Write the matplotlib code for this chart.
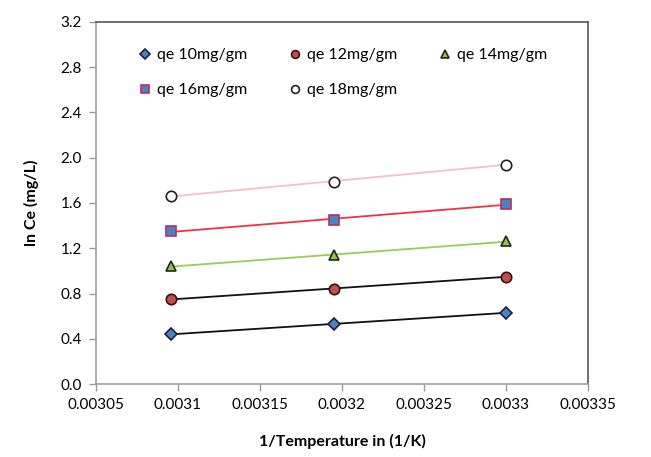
import numpy as np
import matplotlib
matplotlib.use('Agg')
from matplotlib import pyplot as plt

plt.rcParams['font.family'] = ['Lato', 'DejaVu Sans']

# 1/T values (303, 313, 323 K)
inv_temp = [1/323.0, 1/313.0, 1/303.0]
series_names = ['qe 10mg/gm', 'qe 12mg/gm', 'qe 14mg/gm', 'qe 16mg/gm', 'qe 18mg/gm']
ln_ce_10 = [0.44, 0.53, 0.63]
ln_ce_12 = [0.75, 0.84, 0.95]
ln_ce_14 = [1.04, 1.14, 1.26]
ln_ce_16 = [1.35, 1.45, 1.59]
ln_ce_18 = [1.66, 1.79, 1.94]
x_ticks = [0.00305, 0.0031, 0.00315, 0.0032, 0.00325, 0.0033, 0.00335]
x_labels = ['0.00305', '0.0031', '0.00315', '0.0032', '0.00325', '0.0033', '0.00335']
y_ticks = [0.0, 0.4, 0.8, 1.2, 1.6, 2.0, 2.4, 2.8, 3.2]

all_series = [ln_ce_10, ln_ce_12, ln_ce_14, ln_ce_16, ln_ce_18]
markers = ['D', 'o', '^', 's', 'o']
msizes = [6.5, 7.5, 7.5, 7.5, 7.5]
faces = ['#4f81bd', '#c0504d', '#9bbb59', '#4f81bd', 'white']
edges = ['#1f1f3f', '#3a1010', '#202a10', '#b0306a', '#222222']
trend_cols = ['#111111', '#111111', '#9bcc55', '#ee3344', '#f2c0c8']

fig = plt.figure(figsize=(6.51, 4.57), dpi=100)
ax = fig.add_axes([0.1475, 0.1597, 0.7555, 0.7922])

xs = np.array(inv_temp)
handles = []
for vals, m, ms, fc, ec, lc, name in zip(all_series, markers, msizes, faces, edges, trend_cols, series_names):
    # linear trendline
    k, b = np.polyfit(xs, vals, 1)
    ax.plot(xs, k * xs + b, color=lc, lw=1.3, zorder=2)
    h, = ax.plot(xs, vals, ls='none', marker=m, ms=ms, mfc=fc, mec=ec, mew=1.2, zorder=3, label=name)
    handles.append(h)

ax.set_xlim(0.00305, 0.00335)
ax.set_ylim(0, 3.2)
ax.set_xticks(x_ticks)
ax.set_xticklabels(x_labels)
ax.set_yticks(y_ticks)
ax.set_yticklabels(['%.1f' % v for v in y_ticks])
ax.tick_params(axis='both', labelsize=11, color='#999999', length=5, width=1, pad=5)

for s in ['left', 'bottom']:
    ax.spines[s].set_color('#a0a0a0')
for s in ['top', 'right']:
    ax.spines[s].set_color('#555555')
for s in ax.spines.values():
    s.set_linewidth(1.2)

ax.set_xlabel('1/Temperature in (1/K)', fontsize=11.5, fontweight='bold', labelpad=16)
ax.set_ylabel('ln Ce (mg/L)', fontsize=11.5, fontweight='bold', labelpad=16)

# row-major order in the legend: 10 12 14 / 16 18
order = [0, 3, 1, 4, 2]
leg = ax.legend([handles[i] for i in order], [series_names[i] for i in order],
                ncol=3, loc='upper left', bbox_to_anchor=(0.0557, 0.967), frameon=False,
                fontsize=11.5, handletextpad=0.3, columnspacing=2.55, labelspacing=1.3,
                handlelength=0.9, markerscale=0.75)

fig.savefig('out.png', dpi=100)
